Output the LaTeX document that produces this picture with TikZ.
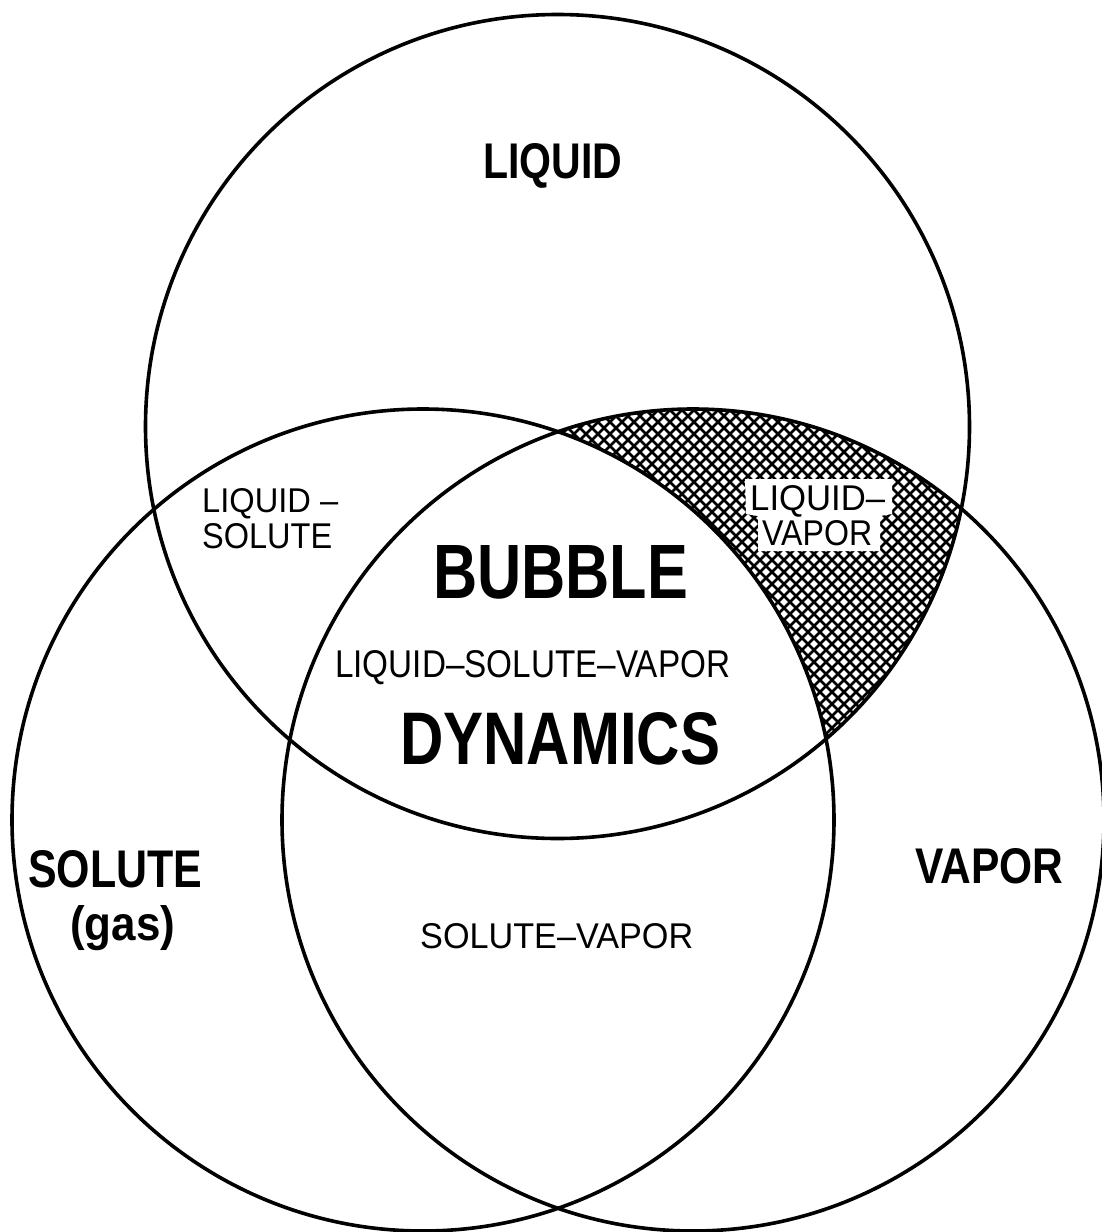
\documentclass[tikz,border=0pt]{standalone}
\usepackage{fontspec}
\usepackage{graphicx}
\setmainfont{Liberation Sans}
\newcommand{\fitlabel}[3]{\resizebox{#1pt}{#2pt}{#3}}
\tikzset{
  ring/.style={line width=3.6pt, draw=black},
  lbl/.style={inner sep=0pt, anchor=base west},
  hatchline/.style={line width=2.7pt, draw=black}
}
\begin{document}
\begin{tikzpicture}[x=1pt,y=-1pt]
\useasboundingbox (0,0) rectangle (1101,1232);
\fill[white] (0,0) rectangle (1101,1232);
\coordinate (c1) at (557.5,426.5);
\coordinate (c2) at (423,820);
\coordinate (c3) at (693,820);
% hatched liquid-vapor region
\begin{scope}
  \clip (c1) circle[radius=412pt];
  \clip (c3) circle[radius=411pt];
  \foreach \k in {100,112,...,1420} {
    \draw[hatchline] (\k,380) -- ++(400,400);
    \draw[hatchline] (\k,380) -- ++(-400,400);
  }
  \fill[white] (c2) circle[radius=411pt];
  \fill[white] (745,479) -- (892,479) -- (892,514) -- (880,516) -- (880,551)
     -- (758,551) -- (758,516) -- (746,514) -- cycle;
\end{scope}
\draw[ring] (c1) circle[radius=412pt];
\draw[ring] (c2) circle[radius=411pt];
\draw[ring] (c3) circle[radius=411pt];
% labels
\node[lbl] (liquid) at (483,178) {\fitlabel{139}{35}{\bfseries LIQUID}};
\node[lbl] (ls1) at (202,512) {\fitlabel{136}{24}{LIQUID –}};
\node[lbl] (ls2) at (202,548) {\fitlabel{130}{25}{SOLUTE}};
\node[lbl] (bubble) at (433,598) {\fitlabel{255}{53}{\bfseries BUBBLE}};
\node[lbl] (lsv) at (335,677) {\fitlabel{395}{27}{LIQUID–SOLUTE–VAPOR}};
\node[lbl] (dyn) at (400,764) {\fitlabel{320}{52}{\bfseries DYNAMICS}};
\node[lbl] (lv1) at (750,510) {\fitlabel{135}{25}{LIQUID–}};
\node[lbl] (lv2) at (762,545) {\fitlabel{110}{25}{VAPOR}};
\node[lbl] (solute) at (28,887) {\fitlabel{174}{37}{\bfseries SOLUTE}};
\node[lbl] (gas) at (70,940) {\fitlabel{105}{35}{\bfseries (gas)}};
\node[lbl] (vapor) at (915,883) {\fitlabel{148}{35}{\bfseries VAPOR}};
\node[lbl] (sv) at (420,948) {\fitlabel{273}{25}{SOLUTE–VAPOR}};
\end{tikzpicture}
\end{document}
